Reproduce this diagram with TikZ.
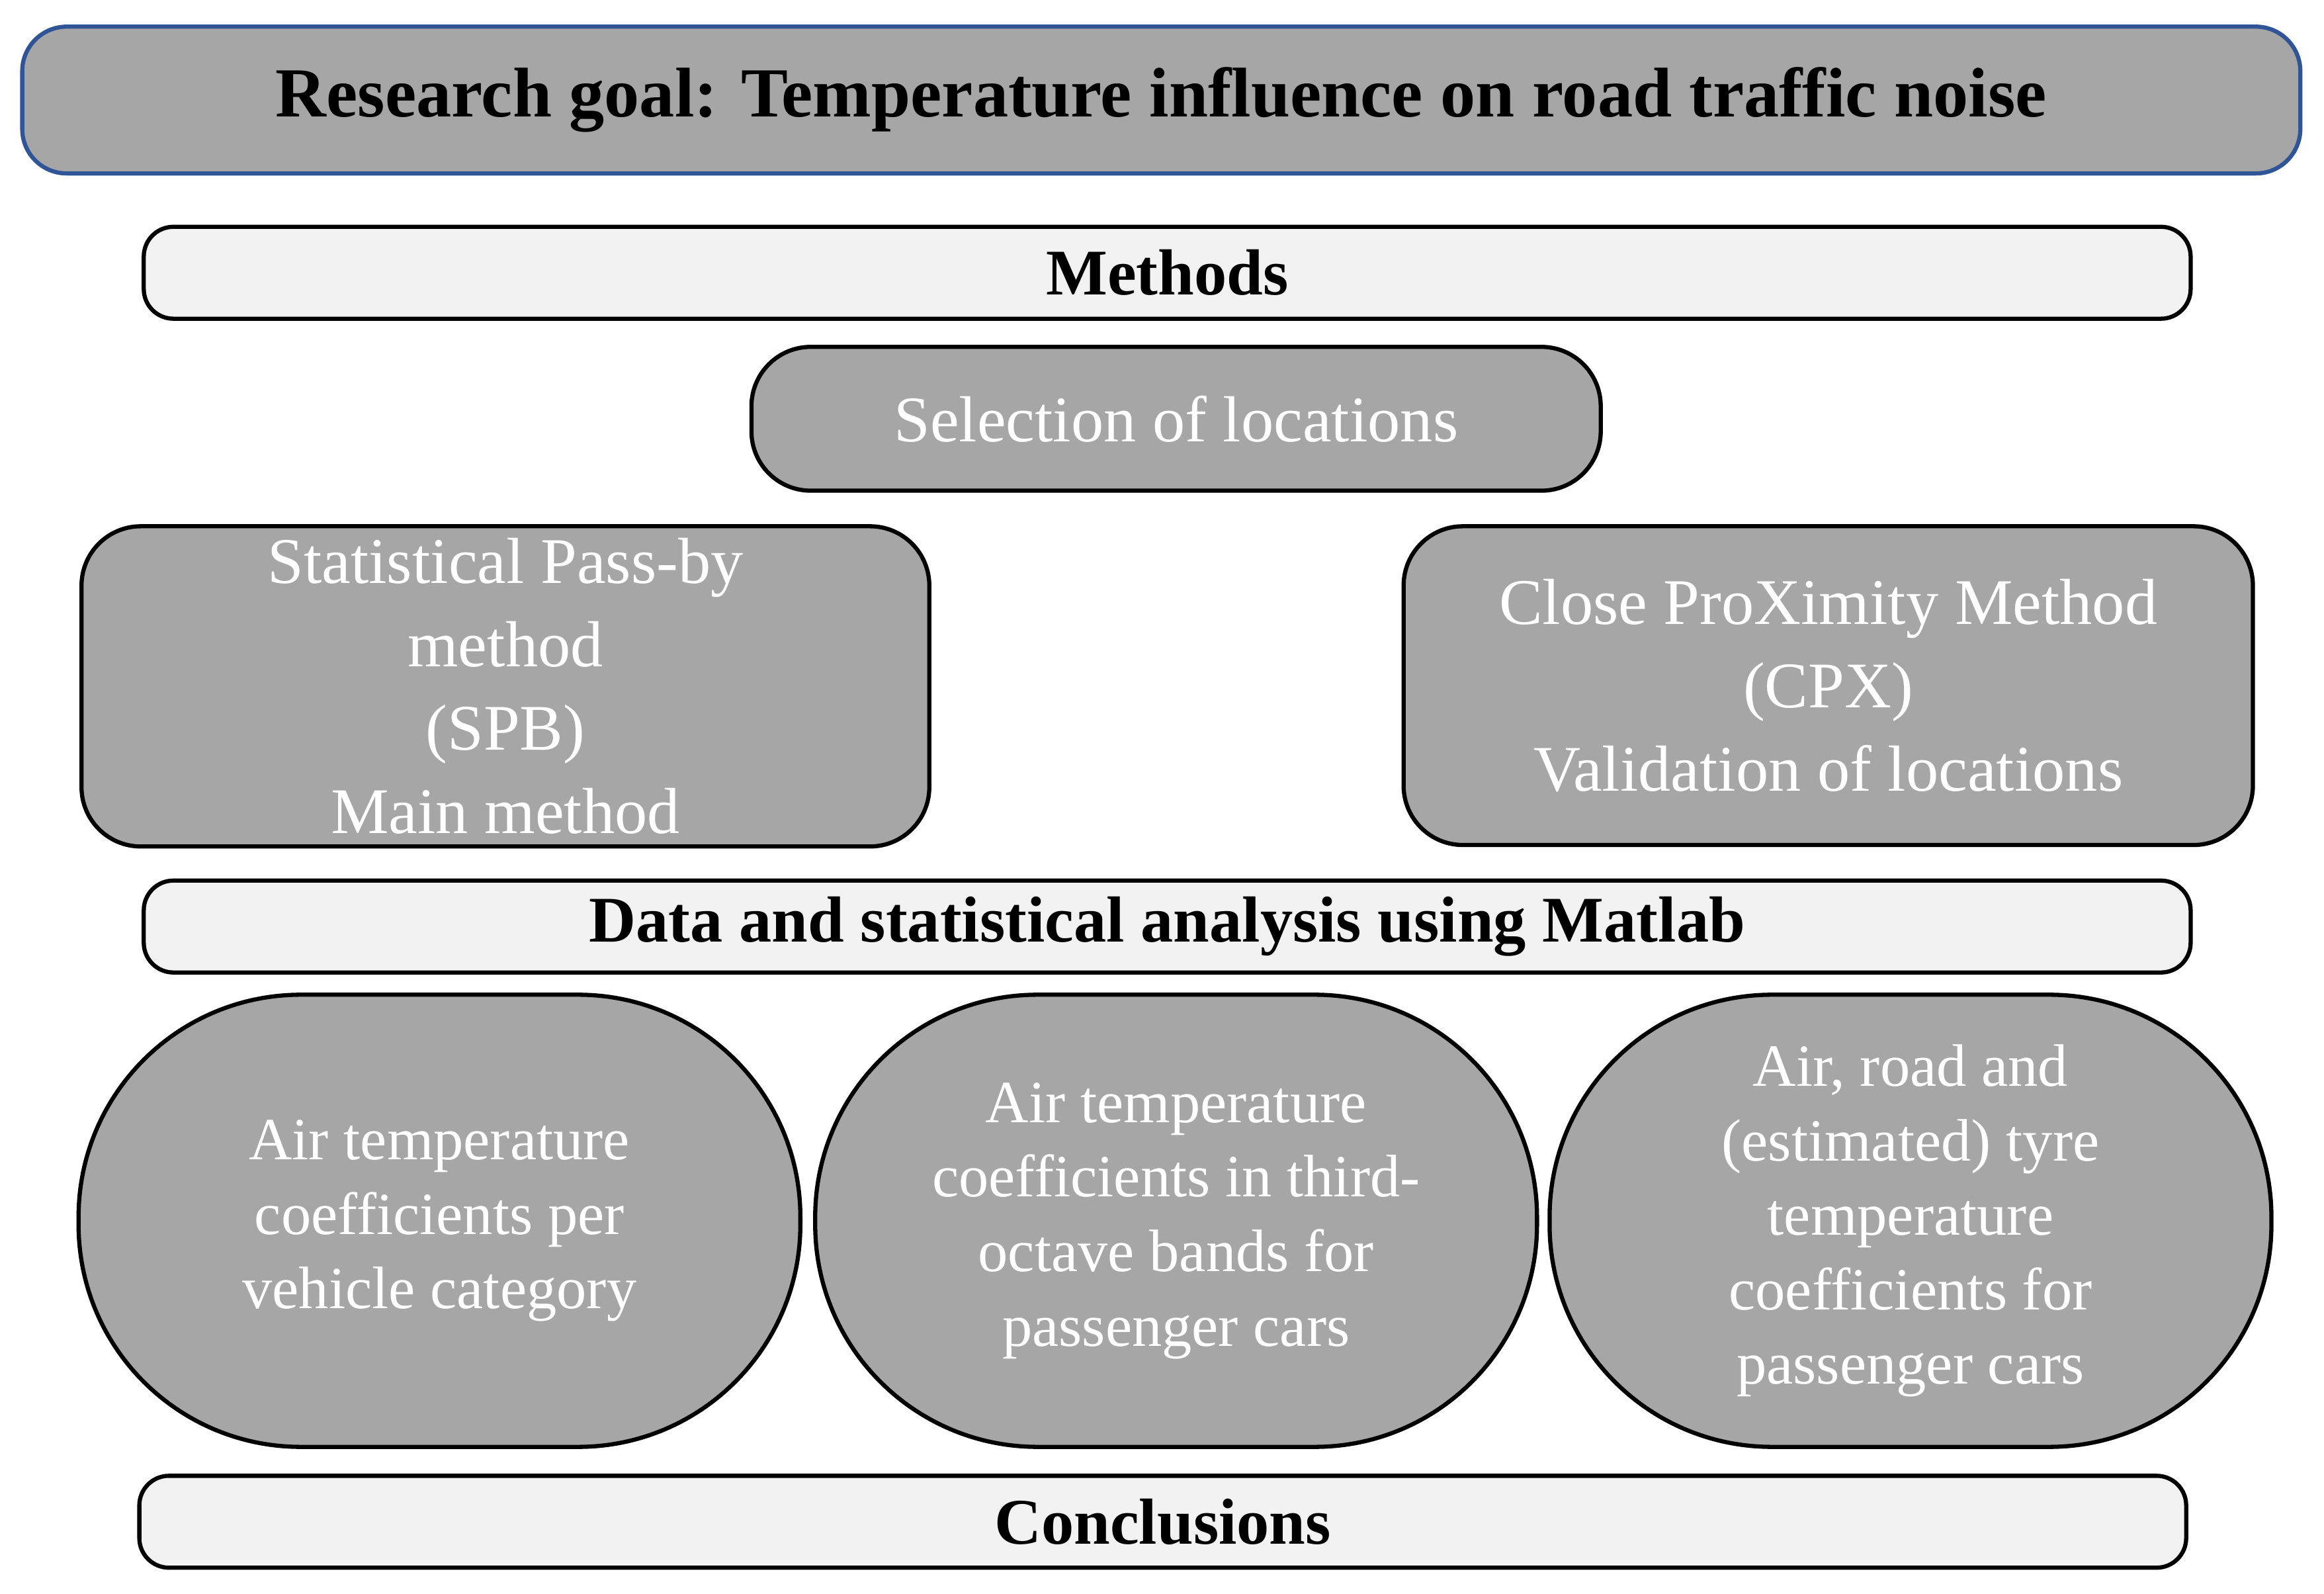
\documentclass[tikz,border=0pt]{standalone}
\usepackage{fontspec}
\setmainfont{Liberation Serif}
\usetikzlibrary{positioning}
\definecolor{boxgray}{HTML}{A6A6A6}
\definecolor{bargray}{HTML}{F2F2F2}
\definecolor{goalblue}{HTML}{2F5597}
\begin{document}
\begin{tikzpicture}[
graybox/.style={draw=black, fill=boxgray, thick, rounded corners=4mm, text=white, align=center,
  font=\fontsize{12.5}{16}\selectfont, inner sep=0pt},
bar/.style={draw=black, fill=bargray, thick, rounded corners=2mm, minimum width=13.81cm,
  minimum height=0.62cm, inner sep=0pt, font=\fontsize{12.5}{15}\selectfont\bfseries},
oval/.style={draw=black, fill=boxgray, thick, rounded corners=15mm, text=white, align=center,
  minimum width=4.87cm, minimum height=3.05cm, inner sep=0pt, font=\fontsize{11.5}{14.3}\selectfont}
]
\useasboundingbox (0,0) rectangle (15.68,-10.75);
%Nodes
\node[draw=goalblue, fill=boxgray, thick, rounded corners=3mm, minimum width=15.37cm, minimum height=0.99cm,
  inner sep=0pt, font=\fontsize{13.5}{16}\selectfont\bfseries] (goal) at (7.835,-0.675)
  {Research goal: Temperature influence on road traffic noise};
\node[bar] (methods) at (7.875,-1.84) {Methods};
\node[graybox, minimum width=5.73cm, minimum height=0.97cm] (select) at (7.935,-2.825) {Selection of locations};
\node[graybox, minimum width=5.72cm, minimum height=2.16cm] (spb) at (3.41,-4.63)
  {Statistical Pass-by\\method\\(SPB)\\Main method};
\node[graybox, minimum width=5.73cm, minimum height=2.15cm] (cpx) at (12.335,-4.625)
  {Close ProXimity Method\\(CPX)\\Validation of locations};
\node[bar] (data) at (7.875,-6.25) {Data and statistical analysis using Matlab};
\node[oval] (air) at (2.965,-8.235) {Air temperature\\coefficients per\\vehicle category};
\node[oval] (third) at (7.935,-8.235) {Air temperature\\coefficients in third-\\octave bands for\\passenger cars};
\node[oval] (tyre) at (12.89,-8.235) {Air, road and\\(estimated) tyre\\temperature\\coefficients for\\passenger cars};
\node[bar] (concl) at (7.845,-10.265) {Conclusions};
\end{tikzpicture}
\end{document}
